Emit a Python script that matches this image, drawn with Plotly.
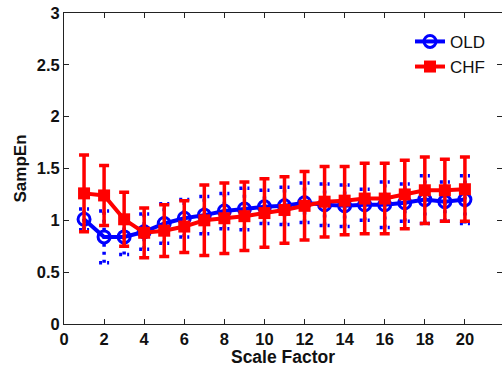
import plotly.graph_objects as go

scale = list(range(1, 21))
old_mean = [1.01, 0.84, 0.84, 0.89, 0.97, 1.02, 1.05, 1.09, 1.11, 1.13, 1.14, 1.17, 1.15, 1.14, 1.15, 1.15, 1.17, 1.20, 1.18, 1.20]
old_std = [0.10, 0.25, 0.17, 0.17, 0.19, 0.18, 0.18, 0.17, 0.20, 0.16, 0.18, 0.19, 0.20, 0.20, 0.15, 0.22, 0.18, 0.23, 0.19, 0.23]
chf_mean = [1.26, 1.24, 1.01, 0.88, 0.90, 0.94, 1.00, 1.02, 1.04, 1.07, 1.10, 1.14, 1.18, 1.19, 1.21, 1.21, 1.25, 1.29, 1.29, 1.30]
chf_std = [0.37, 0.29, 0.26, 0.24, 0.25, 0.25, 0.34, 0.34, 0.33, 0.33, 0.32, 0.33, 0.34, 0.33, 0.34, 0.34, 0.33, 0.32, 0.30, 0.31]

BLUE = "#0000FF"
RED = "#FF0000"
FONT = "Liberation Sans"

# dotted OLD error bars built from the data arrays
ex, ey = [], []
cap = 0.25
for x, m, s in zip(scale, old_mean, old_std):
    ex += [x, x, None, x - cap, x + cap, None, x - cap, x + cap, None]
    ey += [m - s, m + s, None, m + s, m + s, None, m - s, m - s, None]

fig = go.Figure()
fig.add_trace(go.Scatter(x=ex, y=ey, mode="lines", showlegend=False,
                         line=dict(color=BLUE, width=3.5, dash="3px,5px"),
                         hoverinfo="skip"))
fig.add_trace(go.Scatter(x=scale, y=old_mean, mode="lines+markers", name="OLD",
                         line=dict(color=BLUE, width=4),
                         marker=dict(symbol="circle-open", size=12, color=BLUE,
                                     line=dict(width=3, color=BLUE))))
fig.add_trace(go.Scatter(x=scale, y=chf_mean, mode="lines+markers", name="CHF",
                         line=dict(color=RED, width=4),
                         marker=dict(symbol="square", size=12, color=RED),
                         error_y=dict(type="data", array=chf_std, visible=True,
                                      color=RED, thickness=3.5, width=5)))

axis_common = dict(showgrid=False, zeroline=False, showline=True, linecolor="#222222",
                   linewidth=1, mirror="ticks", ticks="inside", ticklen=5,
                   tickcolor="#222222",
                   tickfont=dict(family=FONT, size=16.5, color="#111111", weight="bold"))

fig.update_xaxes(range=[0, 21.85], tickvals=list(range(0, 21, 2)),
                 title=dict(text="Scale Factor", standoff=1,
                            font=dict(family=FONT, size=17.5, color="#111111", weight="bold")),
                 **axis_common)
fig.update_yaxes(range=[0, 3], tickvals=[0, 0.5, 1, 1.5, 2, 2.5, 3],
                 ticktext=["0", "0.5", "1", "1.5", "2", "2.5", "3"],
                 title=dict(text="SampEn", standoff=5,
                            font=dict(family=FONT, size=17, color="#111111", weight="bold")),
                 **axis_common)

fig.update_layout(
    width=502, height=367,
    margin=dict(l=64, r=0, t=13, b=43),
    plot_bgcolor="white", paper_bgcolor="white",
    legend=dict(x=0.79, y=0.965, xanchor="left", yanchor="top",
                bgcolor="rgba(255,255,255,0)", borderwidth=0,
                font=dict(family=FONT, size=17, color="#111111"),
                tracegroupgap=0, itemwidth=30),
)

fig.write_html("out.html")
